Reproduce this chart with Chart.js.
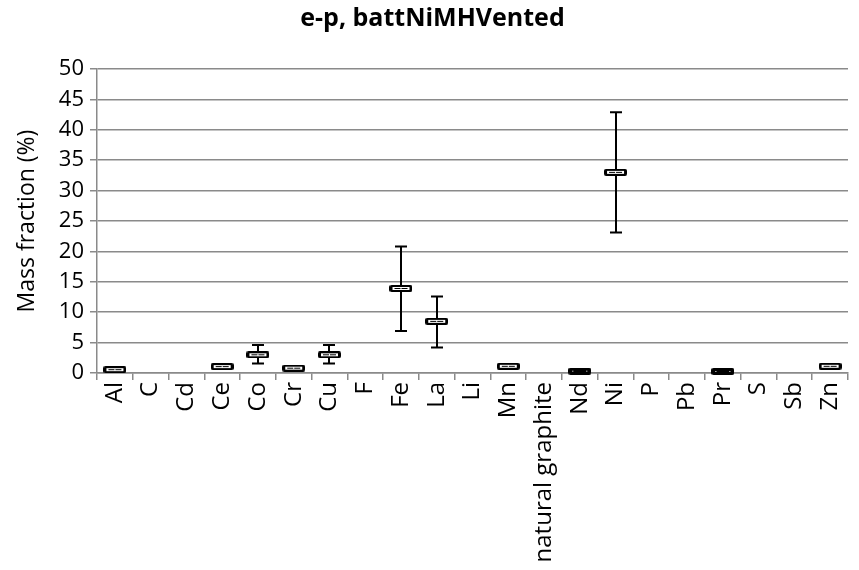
<!DOCTYPE html>
<html>
<head>
<meta charset="utf-8">
<title>e-p, battNiMHVented</title>
<script src="https://cdn.jsdelivr.net/npm/chart.js@4.4.1/dist/chart.umd.min.js"></script>
<style>
  html, body { margin: 0; padding: 0; background: #fff; }
  #wrap { width: 859px; height: 570px; }
</style>
</head>
<body>
<div id="wrap"><canvas id="myChart"></canvas></div>
<script>
// values
var elements = ['Al', 'C', 'Cd', 'Ce', 'Co', 'Cr', 'Cu', 'F', 'Fe', 'La', 'Li', 'Mn',
    'natural graphite', 'Nd', 'Ni', 'P', 'Pb', 'Pr', 'S', 'Sb', 'Zn'];
var massFraction = [0.55, null, null, 1.05, 3.0, 0.8, 3.0, null, 13.9, 8.5, null, 1.1,
    null, 0.3, 33.0, null, null, 0.25, null, null, 1.1];
var errLow = [null, null, null, null, 1.55, null, 1.55, null, 6.9, 4.2, null, null,
    null, null, 23.1, null, null, null, null, null, null];
var errHigh = [null, null, null, null, 4.6, null, 4.6, null, 20.8, 12.6, null, null,
    null, null, 42.9, null, null, null, null, null, null];
var yMin = 0, yMax = 50, yStep = 5;

var gridGrey = '#8a8a8a';

// little box marker (like the excel one)
function makeBox(solid) {
    var c = document.createElement('canvas');
    c.width = 23;
    c.height = 7;
    var g = c.getContext('2d');
    g.fillStyle = '#000';
    g.beginPath();
    g.moveTo(2, 0); g.lineTo(21, 0); g.quadraticCurveTo(23, 0, 23, 2);
    g.lineTo(23, 5); g.quadraticCurveTo(23, 7, 21, 7);
    g.lineTo(2, 7); g.quadraticCurveTo(0, 7, 0, 5);
    g.lineTo(0, 2); g.quadraticCurveTo(0, 0, 2, 0);
    g.fill();
    g.fillStyle = '#fff';
    if (solid) {
        g.fillRect(4, 3, 1, 1);
        g.fillRect(18, 3, 1, 1);
    } else {
        g.fillRect(3, 2, 17, 3);
        g.fillStyle = '#000';
        g.fillRect(5, 3, 6, 1);
        g.fillRect(12, 3, 6, 1);
    }
    return c;
}
var boxOpen = makeBox(false);
var boxSolid = makeBox(true);

// whiskers drawn under the boxes
var errorBars = {
    id: 'errorBars',
    beforeDatasetsDraw: function (chart) {
        var ctx = chart.ctx;
        var x = chart.scales.x;
        var y = chart.scales.y;
        ctx.save();
        ctx.strokeStyle = '#000';
        ctx.lineWidth = 2;
        elements.forEach(function (name, i) {
            if (errLow[i] == null || errHigh[i] == null) return;
            var px = Math.round(x.getPixelForValue(i));
            var top = y.getPixelForValue(errHigh[i]);
            var bot = y.getPixelForValue(errLow[i]);
            ctx.beginPath();
            ctx.moveTo(px, top);
            ctx.lineTo(px, bot);
            ctx.moveTo(px - 6, top);
            ctx.lineTo(px + 6, top);
            ctx.moveTo(px - 6, bot);
            ctx.lineTo(px + 6, bot);
            ctx.stroke();
        });
        ctx.restore();
    }
};

Chart.defaults.font.family = "'Open Sans', sans-serif";
Chart.defaults.color = '#000';

var ctx = document.getElementById('myChart').getContext('2d');
var myChart = new Chart(ctx, {
    type: 'line',
    data: {
        labels: elements,
        datasets: [{
            label: 'Mass fraction',
            data: massFraction,
            showLine: false,
            clip: false,
            pointStyle: function (c) {
                return c.raw != null && c.raw < 0.4 ? boxSolid : boxOpen;
            },
            pointRadius: 10
        }]
    },
    options: {
        responsive: true,
        maintainAspectRatio: false,
        animation: false,
        layout: { padding: { left: 6, right: 0, top: 0, bottom: 0 } },
        plugins: {
            legend: { display: false },
            tooltip: { enabled: false },
            title: {
                display: true,
                text: 'e-p, battNiMHVented',
                font: { size: 25, weight: 'bold' },
                color: '#000',
                padding: { top: 4, bottom: 35 }
            }
        },
        scales: {
            x: {
                offset: true,
                grid: {
                    offset: true,
                    drawOnChartArea: false,
                    drawTicks: true,
                    tickLength: 7,
                    color: gridGrey,
                    lineWidth: 1.5
                },
                border: { color: gridGrey, width: 1.5 },
                ticks: {
                    autoSkip: false,
                    minRotation: 90,
                    maxRotation: 90,
                    padding: 2,
                    font: { size: 24 }
                },
                afterFit: function (scale) {
                    scale.height = 197;
                    // let the plot run to the right edge like the original
                    scale.paddingLeft = 0;
                    scale.paddingRight = 0;
                }
            },
            y: {
                min: yMin,
                max: yMax,
                ticks: { stepSize: yStep, padding: 6, font: { size: 22 } },
                grid: {
                    color: gridGrey,
                    lineWidth: 1.5,
                    tickLength: 7
                },
                border: { color: gridGrey, width: 1.5 },
                title: {
                    display: true,
                    text: 'Mass fraction (%)',
                    font: { size: 23 },
                    padding: { top: 8, bottom: 0 }
                },
                afterFit: function (scale) { scale.width = 91; }
            }
        }
    },
    plugins: [errorBars]
});
</script>
</body>
</html>
